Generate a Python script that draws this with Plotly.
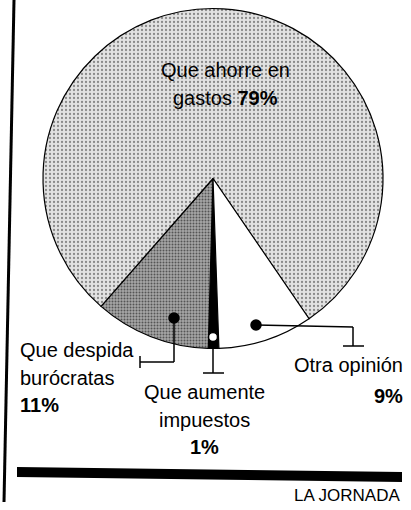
import plotly.graph_objects as go

W, H = 411, 510

labels = ["Que aumente impuestos", "Que despida burócratas", "Que ahorre en gastos", "Otra opinión"]
values = [1, 11, 79, 9]
colors = ["#000000", "#a6a6a6", "#e2e2e2", "#ffffff"]
pct_text = ["1%", "11%", "79%", "9%"]


def px(x):
    return x / W


def py(y):
    return 1 - y / H


FONT = "Liberation Sans, Arial, Helvetica, sans-serif"

fig = go.Figure()
fig.add_trace(go.Pie(
    labels=labels, values=values, sort=False, direction="clockwise", rotation=178,
    marker=dict(
        colors=colors, line=dict(color="black", width=1.2),
        pattern=dict(shape=["", ".", ".", ""], fgcolor=["#000", "#555", "#8a8a8a", "#fff"],
                     bgcolor=["#000", "#a6a6a6", "#e2e2e2", "#fff"],
                     size=[4, 3, 4, 4], solidity=[0.3, 0.35, 0.25, 0.3],
                     fillmode="replace"),
    ),
    textinfo="none", hoverinfo="label+percent", showlegend=False,
    domain=dict(x=[px(43), px(383)], y=[py(350), py(7)]),
))

shapes = []


def seg(x0, y0, x1, y1, w=1.5):
    shapes.append(dict(type="line", xref="x", yref="y", x0=x0, y0=y0, x1=x1, y1=y1,
                       line=dict(color="black", width=w), layer="above"))


def dot(x, y, r, fill):
    shapes.append(dict(type="circle", xref="x", yref="y", x0=x - r, x1=x + r, y0=y - r, y1=y + r,
                       fillcolor=fill, line=dict(color="black", width=1.5), layer="above"))


# despida leader
seg(174, 318, 174, 362)
seg(174, 362, 140, 362)
seg(140, 356, 140, 368)
dot(174, 318, 5, "black")
# aumente leader
seg(213, 341, 213, 373)
seg(203, 373, 224, 373)
dot(213, 337, 4.5, "white")
# otra leader
seg(256, 325, 353, 327)
seg(353, 327, 353, 346)
seg(343, 346, 364, 346)
dot(256, 325, 5, "black")
# frame line on the left
seg(14, 0, 4, 502, 3)
# thick bar
shapes.append(dict(type="path", xref="x", yref="y",
                   path="M 17 467 L 402 472 L 402 482 L 17 477 Z",
                   fillcolor="black", line=dict(color="black", width=0)))

anns = []


def txt(x, y, s, anchor="center", size=20, family=FONT):
    anns.append(dict(x=px(x), y=py(y), xref="paper", yref="paper", text=s, showarrow=False,
                     xanchor=anchor, yanchor="middle",
                     font=dict(family=family, size=size, color="black")))


txt(225, 70, "Que ahorre en")
txt(225, 98, "gastos <b>" + pct_text[2] + "</b>")
txt(18, 350, "Que despida", "left")
txt(18, 378, "burócratas", "left")
txt(18, 405, "<b>" + pct_text[1] + "</b>", "left")
txt(204, 392, "Que aumente")
txt(204, 420, "impuestos")
txt(204, 447, "<b>" + pct_text[0] + "</b>")
txt(405, 365, "Otra opinión", "right")
txt(405, 396, "<b>" + pct_text[3] + "</b>", "right")
txt(402, 495, "LA JORNADA", "right", 17)

fig.update_layout(
    width=W, height=H, margin=dict(l=0, r=0, t=0, b=0),
    paper_bgcolor="white", plot_bgcolor="rgba(0,0,0,0)",
    xaxis=dict(range=[0, W], visible=False, fixedrange=True, domain=[0, 1]),
    yaxis=dict(range=[H, 0], visible=False, fixedrange=True, domain=[0, 1]),
    shapes=shapes, annotations=anns,
)
fig.write_html("out.html", config={"displayModeBar": False},
               post_script="document.body.style.margin='0';")
